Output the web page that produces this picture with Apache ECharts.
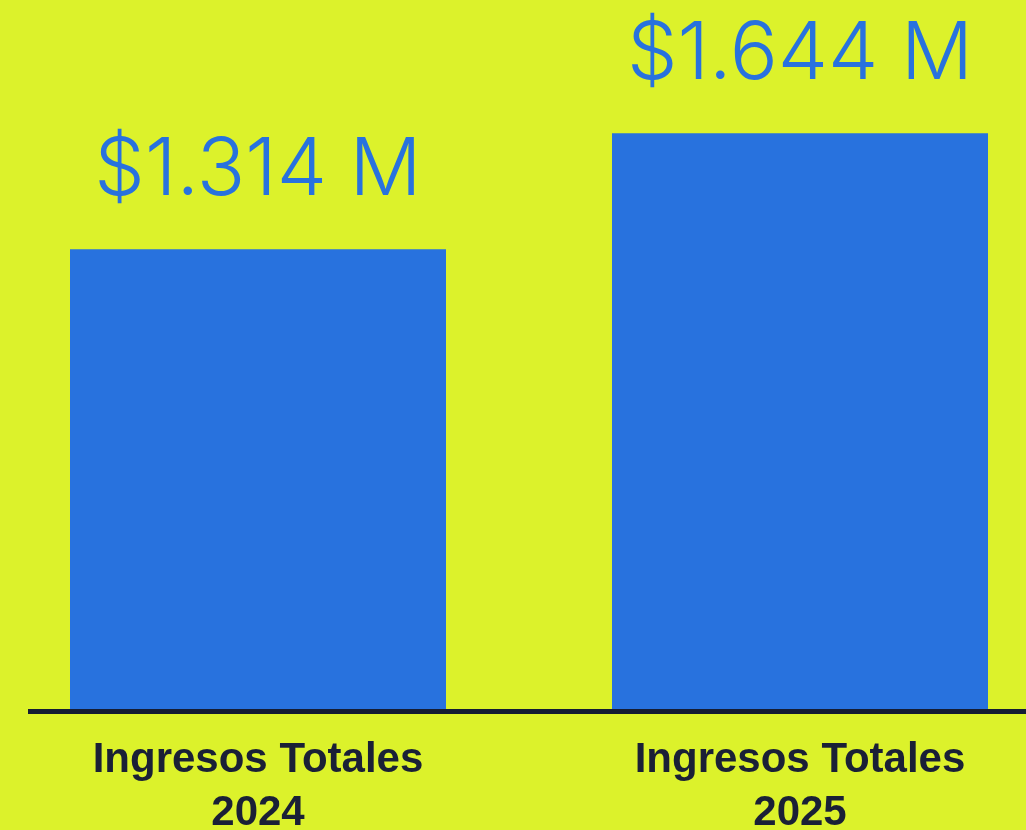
<!DOCTYPE html>
<html>
<head>
<meta charset="utf-8">
<script src="https://cdn.jsdelivr.net/npm/echarts@6/dist/echarts.min.js"></script>
<style>
html,body{margin:0;padding:0;background:#DCF22B;}
#chart{width:1026px;height:830px;}
</style>
</head>
<body>
<div id="chart"></div>
<script>
const categories = ['Ingresos Totales\n2024', 'Ingresos Totales\n2025'];
const values = [1.314, 1.644];
const valueLabels = ['$1.314 M', '$1.644 M'];

const chart = echarts.init(document.getElementById('chart'));
chart.setOption({
  backgroundColor: '#DCF22B',
  animation: false,
  grid: [
    {left: -13, right: -45, top: 8, bottom: 119, containLabel: false, outerBoundsMode: 'none'},
    {left: 28, right: 0, top: 8, bottom: 119, containLabel: false, outerBoundsMode: 'none'}
  ],
  xAxis: [
    {
      type: 'category', gridIndex: 0, data: categories,
      axisLine: {show: false}, axisTick: {show: false},
      axisLabel: {
        margin: 23, color: '#1A2036', fontFamily: 'Liberation Sans, Arial, sans-serif',
        fontWeight: 'bold', fontSize: 42, lineHeight: 53, align: 'center'
      }
    },
    {
      type: 'category', gridIndex: 1, data: [''], z: 10,
      axisLine: {show: true, lineStyle: {color: '#151D33', width: 5, cap: 'butt'}},
      axisTick: {show: false}, axisLabel: {show: false}
    }
  ],
  yAxis: [
    {type: 'value', gridIndex: 0, min: 0, max: 2, show: false, splitLine: {show: false}},
    {type: 'value', gridIndex: 1, min: 0, max: 2, show: false, splitLine: {show: false}}
  ],
  series: [
    {
      type: 'bar', xAxisIndex: 0, yAxisIndex: 0,
      data: values, barWidth: 376,
      itemStyle: {color: '#2872DE'},
      label: {
        show: true, position: 'top', distance: 38,
        formatter: p => valueLabels[p.dataIndex],
        color: '#2872DE', fontFamily: 'Inter, sans-serif', fontWeight: 300,
        fontSize: 80, lineHeight: 80
      }
    },
    {type: 'bar', xAxisIndex: 1, yAxisIndex: 1, data: []}
  ]
});
</script>
</body>
</html>
